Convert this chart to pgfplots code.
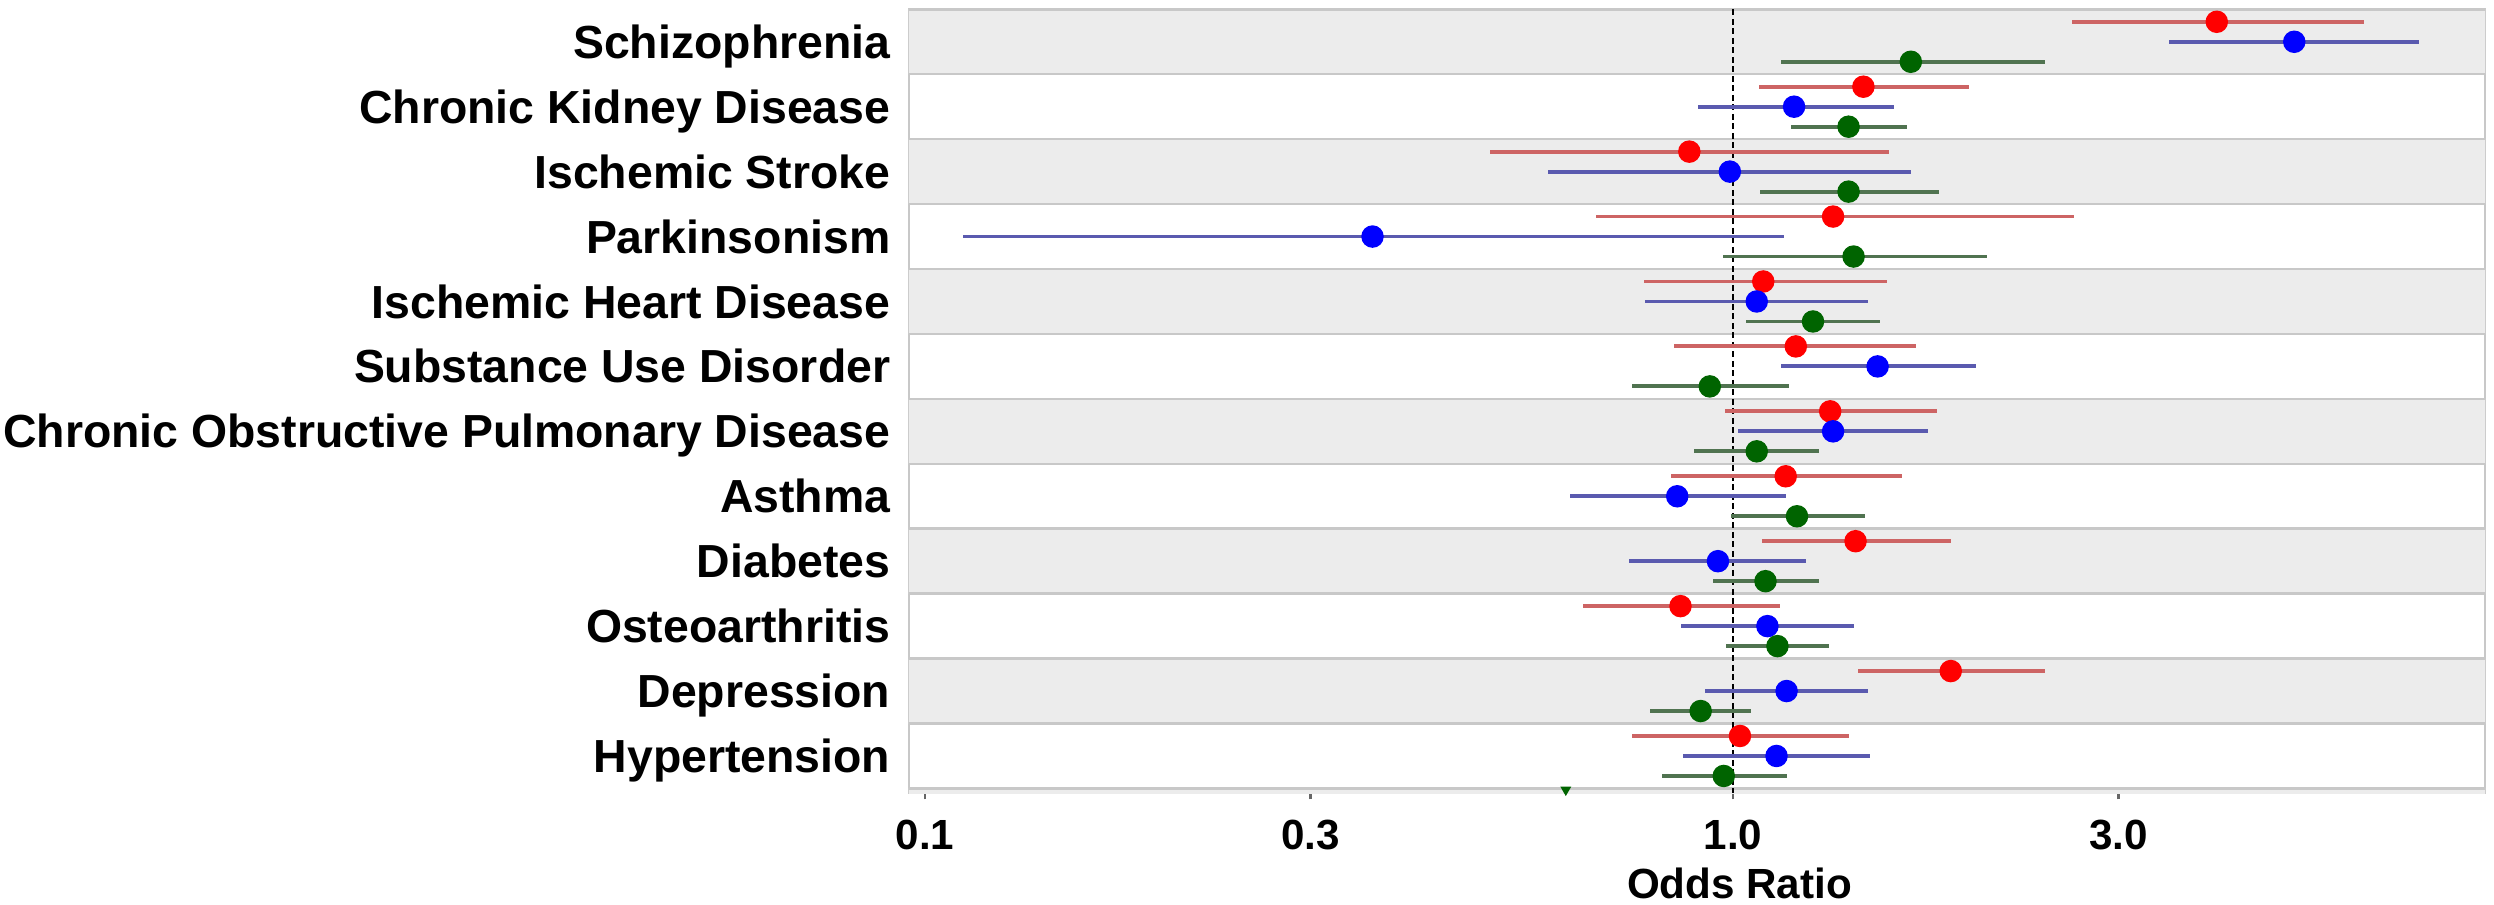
\documentclass[border=0pt]{standalone}
\usepackage{pgfplots}
\pgfplotsset{compat=1.18}
\usepackage{pgfplotstable}
\usepackage{fontspec}
\setmainfont{Liberation Sans}

\definecolor{band}{RGB}{236,236,236}
\definecolor{sep}{RGB}{200,200,200}
\definecolor{mred}{RGB}{255,0,0}
\definecolor{mblue}{RGB}{0,0,255}
\definecolor{mgreen}{RGB}{0,100,0}
\definecolor{lred}{RGB}{205,100,100}
\definecolor{lblue}{RGB}{90,90,175}
\definecolor{lgreen}{RGB}{80,115,80}

\pgfplotstableread{
y pt lo hi
0.308 3.97 2.63 6.04
-0.692 1.45 1.078 1.96
-1.692 0.883 0.50 1.56
-2.692 1.33 0.677 2.64
-3.692 1.09 0.776 1.55
-4.692 1.196 0.846 1.686
-5.692 1.319 0.977 1.787
-6.692 1.162 0.839 1.62
-7.692 1.418 1.087 1.86
-8.692 0.861 0.652 1.142
-9.692 1.86 1.426 2.43
-10.692 1.02 0.749 1.393
}\redtab

\pgfplotstableread{
y pt lo hi
0 4.95 3.46 7.06
-1 1.19 0.904 1.58
-2 0.991 0.59 1.66
-3 0.358 0.1115 1.155
-4 1.07 0.778 1.47
-5 1.51 1.145 2.00
-6 1.33 1.014 1.741
-7 0.853 0.628 1.162
-8 0.958 0.743 1.231
-9 1.103 0.863 1.413
-10 1.165 0.922 1.47
-11 1.132 0.868 1.476
}\bluetab

\pgfplotstableread{
y pt lo hi
-0.308 1.66 1.145 2.43
-1.308 1.39 1.18 1.64
-2.308 1.39 1.08 1.80
-3.308 1.41 0.971 2.06
-4.308 1.256 1.038 1.52
-5.308 0.936 0.751 1.172
-6.308 1.07 0.896 1.278
-7.308 1.20 0.994 1.455
-8.308 1.097 0.944 1.278
-9.308 1.135 0.98 1.315
-10.308 0.912 0.789 1.053
-11.308 0.974 0.817 1.165
}\greentab

\begin{document}
\begin{tikzpicture}
\begin{axis}[
  name=ax,
  scale only axis,
  width=157.6mm, height=78.4mm,
  xmode=log,
  xmin=0.09554, xmax=8.524,
  ymin=-11.575, ymax=0.5,
  xtick={0.1,0.3,1,3},
  xticklabels={0.1,0.3,1.0,3.0},
  xminorticks=false,
  xtick pos=bottom,
  ytick pos=left,
  ytick={0,-1,...,-11},
  yticklabels={Schizophrenia,Chronic Kidney Disease,Ischemic Stroke,Parkinsonism,Ischemic Heart Disease,Substance Use Disorder,Chronic Obstructive Pulmonary Disease,Asthma,Diabetes,Osteoarthritis,Depression,Hypertension},
  axis line style={draw=sep, line width=0.5pt},
  tick align=outside,
  major tick length=0.6mm,
  x tick style={draw=black!60, line width=0.6pt},
  y tick style={draw=none},
  xticklabel style={font=\fontsize{12}{14}\selectfont\bfseries, anchor=base, inner sep=0pt, yshift=-5.0mm},
  yticklabel style={font=\fontsize{13.2}{15}\selectfont\bfseries, anchor=base east, inner sep=0pt, xshift=-1.2mm, yshift=-4.7pt},
  xlabel={Odds Ratio},
  xlabel style={font=\fontsize{12}{14}\selectfont\bfseries, at={(axis description cs:0.527,0)}, anchor=base, inner sep=0pt, yshift=-10.5mm},
  clip=true,
]
% background bands
\fill[band] (axis cs:0.01,0.5) rectangle (axis cs:100,-0.5);
\fill[band] (axis cs:0.01,-1.5) rectangle (axis cs:100,-2.5);
\fill[band] (axis cs:0.01,-3.5) rectangle (axis cs:100,-4.5);
\fill[band] (axis cs:0.01,-5.5) rectangle (axis cs:100,-6.5);
\fill[band] (axis cs:0.01,-7.5) rectangle (axis cs:100,-8.5);
\fill[band] (axis cs:0.01,-9.5) rectangle (axis cs:100,-10.5);
\fill[band] (axis cs:0.01,-11.5) rectangle (axis cs:100,-12.5);
\pgfplotsinvokeforeach{0.5,-0.5,-1.5,-2.5,-3.5,-4.5,-5.5,-6.5,-7.5,-8.5,-9.5,-10.5,-11.5}{
  \draw[sep, line width=0.7pt] (axis cs:0.01,#1) -- (axis cs:100,#1);
}
% reference line
\addplot[black, line width=0.6pt, dash pattern=on 0.6mm off 0.35mm, forget plot] coordinates {(1,0.5) (1,-11.575)};
% confidence intervals
\addplot[draw=none, mark=none, forget plot, error bars/.cd, x dir=both, x explicit, error mark=none, error bar style={lred, line width=1.1pt}]
  table[x=pt, y=y, x error plus expr=\thisrow{hi}-\thisrow{pt}, x error minus expr=\thisrow{pt}-\thisrow{lo}] {\redtab};
\addplot[draw=none, mark=none, forget plot, error bars/.cd, x dir=both, x explicit, error mark=none, error bar style={lblue, line width=1.1pt}]
  table[x=pt, y=y, x error plus expr=\thisrow{hi}-\thisrow{pt}, x error minus expr=\thisrow{pt}-\thisrow{lo}] {\bluetab};
\addplot[draw=none, mark=none, forget plot, error bars/.cd, x dir=both, x explicit, error mark=none, error bar style={lgreen, line width=1.1pt}]
  table[x=pt, y=y, x error plus expr=\thisrow{hi}-\thisrow{pt}, x error minus expr=\thisrow{pt}-\thisrow{lo}] {\greentab};
% point estimates
\addplot[only marks, mark=*, mark size=3pt, mred, mark options={draw=mred, fill=mred}] table[x=pt, y=y] {\redtab};
\addplot[only marks, mark=*, mark size=3pt, mblue, mark options={draw=mblue, fill=mblue}] table[x=pt, y=y] {\bluetab};
\addplot[only marks, mark=*, mark size=3pt, mgreen, mark options={draw=mgreen, fill=mgreen}] table[x=pt, y=y] {\greentab};
\addplot[only marks, mark=triangle*, mark size=1.4pt, mgreen, mark options={rotate=180, draw=mgreen, fill=mgreen}] coordinates {(0.621,-11.52)};
\end{axis}
\pgfresetboundingbox
\path ([shift={(-90.9mm,-11.1mm)}]ax.south west) rectangle ([shift={(0.9mm,0.93mm)}]ax.north east);
\end{tikzpicture}
\end{document}
